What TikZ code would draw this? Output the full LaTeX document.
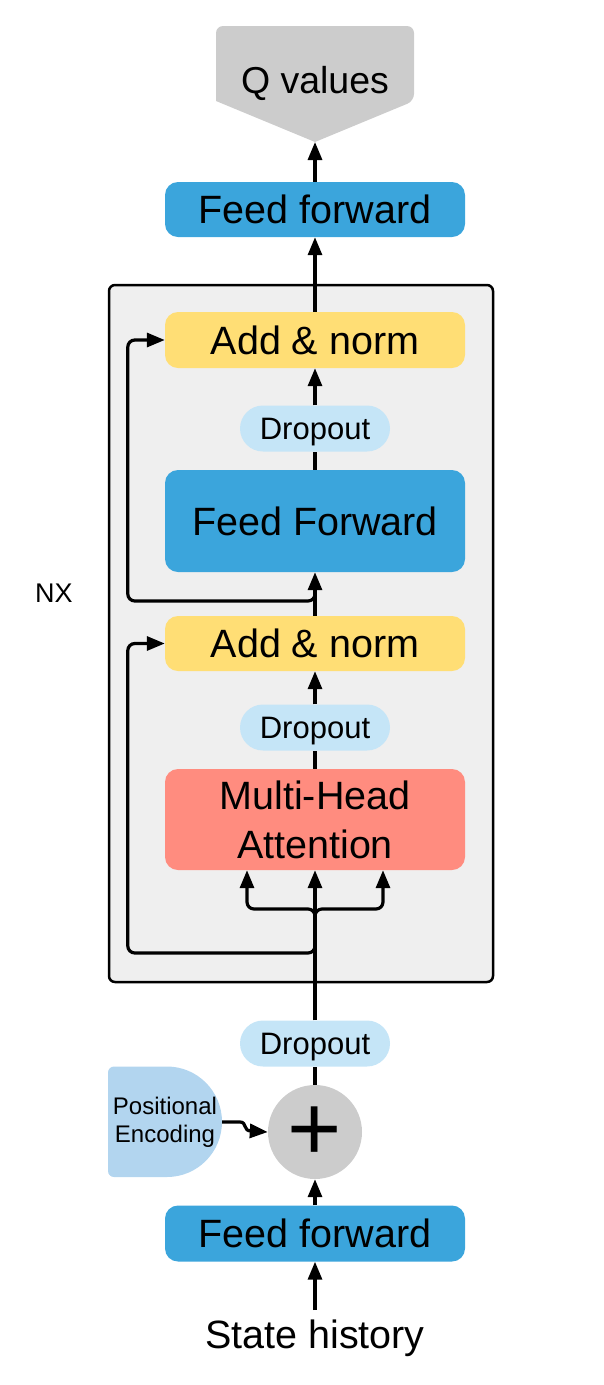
\documentclass[tikz,border=0pt]{standalone}
\usepackage{fontspec}
\setmainfont{Liberation Sans}
\usetikzlibrary{arrows.meta}
\definecolor{ffblue}{RGB}{59,165,220}
\definecolor{anyellow}{RGB}{255,222,117}
\definecolor{mhared}{RGB}{255,140,127}
\definecolor{drblue}{RGB}{197,229,247}
\definecolor{peblue}{RGB}{178,213,239}
\definecolor{shapegray}{RGB}{204,204,204}
\definecolor{stackgray}{RGB}{239,239,239}
\begin{document}
\begin{tikzpicture}[x=1pt,y=-1pt,
  bigfont/.style={font=\fontsize{39.5}{49}\selectfont},
  blk/.style={bigfont, rounded corners=13pt, minimum width=300pt, inner sep=0pt,
              text height=28.3pt, text depth=0pt, text=black},
  drop/.style={font=\fontsize{31}{36}\selectfont, fill=drblue, rounded corners=23pt,
               minimum width=150pt, minimum height=46pt, inner sep=0pt,
               text height=22.2pt, text depth=0pt},
  conn/.style={line width=3.2pt, draw=black},
  arr/.style={conn, -{Triangle[length=18pt,width=14pt]}},
]
\useasboundingbox (0,0) rectangle (604,1385);

% stack box
\node[draw=black, line width=2.5pt, fill=stackgray, rounded corners=6pt,
      minimum width=384pt, minimum height=697pt, inner sep=0pt] (stack) at (301,633.5) {};
\node[font=\fontsize{27}{30}\selectfont] (nx) at (54,593) {NX};

% Q values shape
\fill[shapegray] (315,142) -- (216,101) [rounded corners=7pt] -- (216,26) -- (414,26) -- (414,101) [sharp corners] -- cycle;
\node[font=\fontsize{37.5}{40}\selectfont, anchor=base] (qv) at (315,93) {Q values};
\coordinate (qtip) at (315,142);

% blocks
\node[blk, fill=ffblue, minimum height=55pt] (fftop) at (315,209.5) {Feed forward};
\node[blk, fill=anyellow, minimum height=56pt] (an1) at (315,340) {Add \& norm};
\node[drop] (dr1) at (315,428.5) {Dropout};
\node[blk, fill=ffblue, minimum height=102pt] (ff) at (315,521) {Feed Forward};
\node[blk, fill=anyellow, minimum height=55pt] (an2) at (315,643.5) {Add \& norm};
\node[drop] (dr2) at (315,727.5) {Dropout};
\node[bigfont, fill=mhared, rounded corners=13pt, minimum width=300pt, minimum height=101pt,
      inner sep=0pt, align=center] (mha) at (315,819.5) {Multi-Head\\Attention};
\node[drop] (dr3) at (315,1043.5) {Dropout};
\node[circle, fill=shapegray, minimum size=94pt, inner sep=0pt] (plus) at (315,1132) {};
\node[font=\fontsize{93}{93}\selectfont, inner sep=0pt] (plussign) at (315,1134) {+};
\node[blk, fill=ffblue, minimum height=56pt] (ffbot) at (315,1233.5) {Feed forward};
\node[bigfont, anchor=base] (state) at (315,1348) {State history};
\coordinate (stin) at (315,1310);

% positional encoding
\fill[peblue] (167,1066.5) arc[start angle=90, end angle=-90, x radius=55pt, y radius=55.25pt]
   [rounded corners=6pt] -- (108,1177) -- (108,1066.5) [sharp corners] -- cycle;
\node[font=\fontsize{24}{28}\selectfont, align=center] (pe) at (165,1122.5) {Positional\\Encoding};
\coordinate (peout) at (222,1122);

% connectors
\draw[arr] (stin) -- (ffbot.south);
\draw[arr] (ffbot.north) -- (plus.south);
\draw[arr] (peout) -- (240,1122) .. controls (247,1122) and (243,1131) .. (251,1131) -- (plus.west);
\draw[conn] (plus.north) -- (dr3.south);
\draw[arr] (dr3.north) -- (mha.south);

\coordinate (split) at (315,909);
\coordinate (splitb) at (315,921);
\draw[arr, rounded corners=7pt] (splitb) -- (split) -| ([xshift=-68pt]mha.south);
\draw[arr, rounded corners=7pt] (splitb) -- (split) -| ([xshift=68pt]mha.south);

\coordinate (r2) at (315,953);
\coordinate (r2b) at (315,941);
\draw[arr, rounded corners=7pt] (r2b) -- (r2) -| ([xshift=-37pt]an2.west) -- (an2.west);

\draw[conn] (mha.north) -- (dr2.south);
\draw[arr] (dr2.north) -- (an2.south);
\draw[arr] (an2.north) -- (ff.south);

\coordinate (r1) at (315,601);
\coordinate (r1b) at (315,589);
\draw[arr, rounded corners=7pt] (r1b) -- (r1) -| ([xshift=-37pt]an1.west) -- (an1.west);

\draw[conn] (ff.north) -- (dr1.south);
\draw[arr] (dr1.north) -- (an1.south);
\draw[arr] (an1.north) -- (fftop.south);
\draw[arr] (fftop.north) -- (qtip);
\end{tikzpicture}
\end{document}
